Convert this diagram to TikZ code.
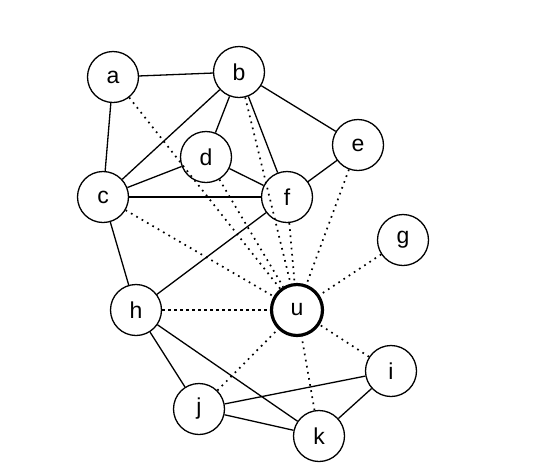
\documentclass[tikz,border=0pt]{standalone}
\usepackage{fontspec}
\setmainfont{Liberation Sans}
\begin{document}
\begin{tikzpicture}[x=1pt, y=-1pt,
    vertex/.style={circle, draw, line width=1.3pt, minimum size=51pt, inner sep=0pt,
        font=\fontsize{23}{25}\selectfont, fill=white},
    center/.style={vertex, line width=3.2pt},
    link/.style={line width=1.3pt},
    hint/.style={line width=1.7pt, dash pattern=on 1.7pt off 4.5pt},
    near/.style={line width=1.7pt, dash pattern=on 3pt off 3pt}]
    \useasboundingbox (0,0) rectangle (543,475);
    % vertices at pixel positions of the sketch
    \node[vertex] (a) at (113,77) {a};
    \node[vertex] (b) at (239,72) {b};
    \node[vertex] (d) at (206,157) {d};
    \node[vertex] (e) at (358,145) {e};
    \node[vertex] (c) at (103,197) {c};
    \node[vertex] (f) at (287,197) {f};
    \node[vertex] (g) at (403,240) {g};
    \node[vertex] (h) at (136,310) {h};
    \node[center] (u) at (297,310) {u};
    \node[vertex] (i) at (391,371) {i};
    \node[vertex] (j) at (199,409) {j};
    \node[vertex] (k) at (319,436) {k};
    % dotted lines into u, drawn first so they sit under the plain edges
    \foreach \v in {a,b,c,d,e,f,g,i,j,k} {
        \draw[hint] (\v) -- (u);
    }
    \draw[near] (h) -- (u);
    % plain edges
    \foreach \p/\q in {a/b, a/c, b/c, b/d, b/f, b/e, c/d, c/f, d/f, e/f,
                       f/h, c/h, h/j, h/k, j/i, j/k, k/i} {
        \draw[link] (\p) -- (\q);
    }
\end{tikzpicture}
\end{document}
